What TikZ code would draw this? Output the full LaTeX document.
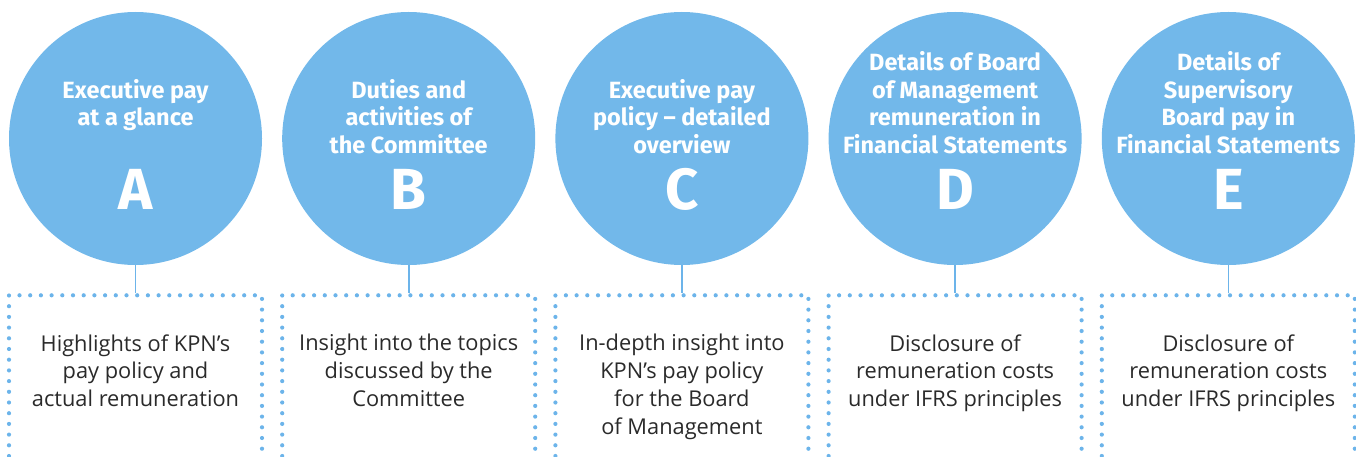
\documentclass[tikz,border=0pt]{standalone}
\usepackage{fontspec}
\setmainfont{Open Sans}
\newfontfamily\headfont{Fira Sans}
\usepackage{xcolor}
\definecolor{sky}{HTML}{72B8EA}
\definecolor{dotblue}{HTML}{6CB4EA}
\definecolor{ink}{HTML}{2A2A2A}
\usetikzlibrary{positioning}

\begin{document}
\begin{tikzpicture}[x=1pt,y=-1pt,
  node distance=19.8pt,
  disc/.style={circle,fill=sky,minimum size=253pt,inner sep=0pt},
  head/.style={anchor=north,align=center,inner sep=0pt,text=white,
               font=\headfont\bfseries\fontsize{23.5}{27.7}\selectfont},
  letter/.style={inner sep=0pt,text=white,
                 font=\headfont\bfseries\fontsize{58}{58}\selectfont},
  panel/.style={rectangle,draw=dotblue,line width=4.2pt,line cap=round,
                dash pattern=on 0pt off 10.7pt,minimum width=253pt,
                minimum height=200pt},
  note/.style={anchor=north,align=center,inner sep=0pt,text=ink,
               font=\fontsize{21.8}{27.7}\selectfont},
  link/.style={draw=dotblue,line width=1.6pt}]
  \useasboundingbox (0,0) rectangle (1356,457);
  \clip (0,0) rectangle (1356,457);
  % circles
  \node[disc] (cA) at (135.5,138.5) {};
  \node[disc,right=of cA] (cB) {};
  \node[disc,right=of cB] (cC) {};
  \node[disc,right=of cC] (cD) {};
  \node[disc,right=of cD] (cE) {};
  % dotted panels
  \node[panel,below=28pt of cA] (bA) {};
  \node[panel,below=28pt of cB] (bB) {};
  \node[panel,below=28pt of cC] (bC) {};
  \node[panel,below=28pt of cD] (bD) {};
  \node[panel,below=28pt of cE] (bE) {};
  \draw[link] (cA) -- (bA.north);\draw[link] (cB) -- (bB.north);
  \draw[link] (cC) -- (bC.north);\draw[link] (cD) -- (bD.north);
  \draw[link] (cE) -- (bE.north);
  % titles
  \node[head] (tA) at ([yshift=-67pt]cA.north) {Executive pay\\at a glance};
  \node[head] (tB) at ([yshift=-67pt]cB.north) {Duties and\\activities of\\the Committee};
  \node[head] (tC) at ([yshift=-67pt]cC.north) {Executive pay\\policy – detailed\\overview};
  \node[head] (tD) at ([yshift=-39.5pt]cD.north) {Details of Board\\of Management\\remuneration in\\Financial Statements};
  \node[head] (tE) at ([yshift=-39.5pt]cE.north) {Details of\\Supervisory\\Board pay in\\Financial Statements};
  \node[letter] (lA) at ([yshift=-51pt]cA.center) {A};
  \node[letter] (lB) at ([yshift=-51pt]cB.center) {B};
  \node[letter] (lC) at ([yshift=-51pt]cC.center) {C};
  \node[letter] (lD) at ([yshift=-51pt]cD.center) {D};
  \node[letter] (lE) at ([yshift=-51pt]cE.center) {E};
  % panel texts
  \node[note] (nA) at ([yshift=-41pt]bA.north) {Highlights of KPN’s\\pay policy and\\actual remuneration};
  \node[note] (nB) at ([yshift=-41pt]bB.north) {Insight into the topics\\discussed by the\\Committee};
  \node[note] (nC) at ([yshift=-41pt]bC.north) {In-depth insight into\\KPN’s pay policy\\for the Board\\of Management};
  \node[note] (nD) at ([yshift=-41pt]bD.north) {Disclosure of\\remuneration costs\\under IFRS principles};
  \node[note] (nE) at ([yshift=-41pt]bE.north) {Disclosure of\\remuneration costs\\under IFRS principles};
\end{tikzpicture}
\end{document}
